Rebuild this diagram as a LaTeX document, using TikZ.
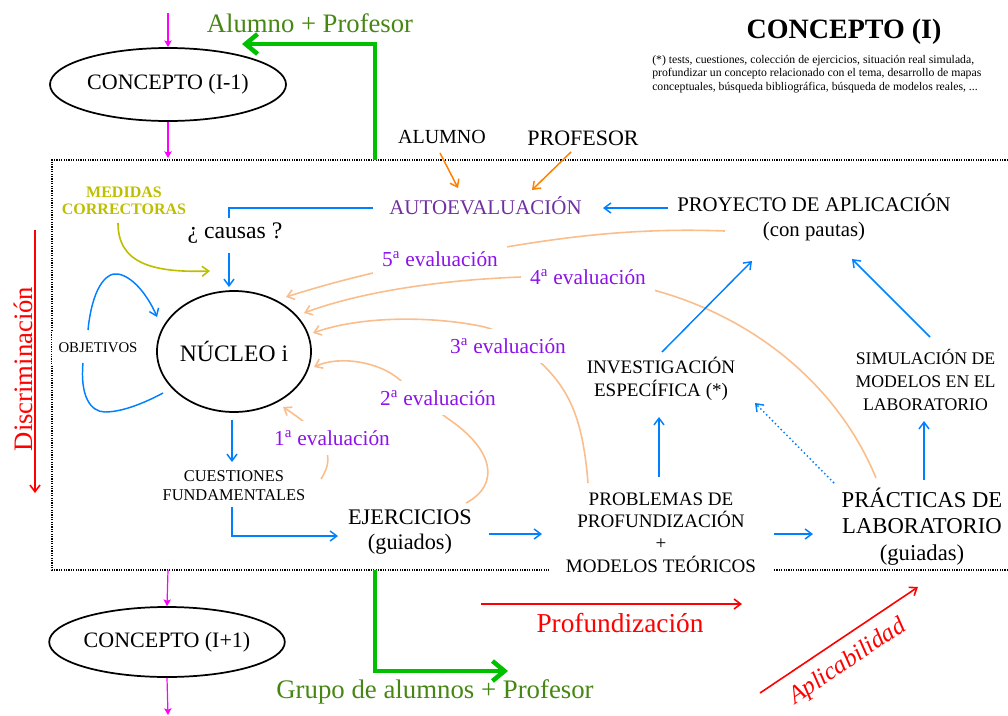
\documentclass[tikz,border=0pt]{standalone}
\usepackage{fontspec}
\setmainfont{Liberation Serif}
\usetikzlibrary{arrows.meta,shapes.geometric}
\definecolor{blu}{RGB}{0,128,255}
\definecolor{mag}{RGB}{255,0,255}
\definecolor{grn}{RGB}{0,192,0}
\definecolor{grntxt}{RGB}{70,135,20}
\definecolor{peach}{RGB}{250,190,140}
\definecolor{org}{RGB}{255,128,0}
\definecolor{purp}{RGB}{112,48,160}
\definecolor{viol}{RGB}{140,20,235}
\definecolor{olv}{RGB}{190,190,0}
\tikzset{
  fs/.style 2 args={font=\fontsize{#1}{#2}\selectfont},
  fsb/.style 2 args={font=\fontsize{#1}{#2}\selectfont\bfseries},
  tx/.style={inner sep=0pt, align=center},
  bl/.style={draw=blu, line width=1.1pt, -{Straight Barb[length=5pt,width=7.5pt]}},
  pe/.style={draw=peach, line width=1.2pt, -{Straight Barb[length=5pt,width=7.5pt]}},
  og/.style={draw=org, line width=1.1pt, -{Straight Barb[length=5pt,width=7.5pt]}},
  mg/.style={draw=mag, line width=0.9pt, -{Stealth[length=5pt,width=5.5pt,inset=1pt]}},
  gr/.style={draw=grn, line width=3.4pt, -{Straight Barb[length=9pt,width=15pt]}},
  rd/.style={draw=red, line width=1.2pt, -{Straight Barb[length=5pt,width=7.5pt]}},
  lab/.style={fill=white, inner xsep=7pt, inner ysep=7pt, text=viol, fs={16}{19}},
  ell/.style={ellipse, draw, line width=1.3pt, inner sep=0pt}
}
\begin{document}
\begin{tikzpicture}[x=0.75pt,y=-0.75pt]
\useasboundingbox (0,0) rectangle (1008,715);

% dotted frame
\draw[line width=0.9pt, dash pattern=on 0.9pt off 0.9pt] (1008,160) -- (52,160) -- (52,570) -- (1008,570);

% evaluation curves
\draw[pe] (725,231) .. controls (620,227) and (540,240) .. (440,259) .. controls (380,270) and (330,283) .. (286,297);
\draw[pe] (876,478) .. controls (840,390) and (760,320) .. (657,291) .. controls (610,278) and (560,274) .. (521,277) .. controls (440,280) and (360,292) .. (304,313);
\draw[pe] (588,483) .. controls (583,420) and (570,390) .. (540,362) .. controls (515,340) and (500,330) .. (480,326) .. controls (430,316) and (360,316) .. (313,333);
\draw[pe] (466,503) .. controls (500,485) and (495,450) .. (447,418) .. controls (430,405) and (410,390) .. (400,380) .. controls (380,362) and (340,355) .. (314,367);
\draw[pe] (321,479) .. controls (330,465) and (330,455) .. (322,440) .. controls (315,430) and (300,418) .. (283,407);

\node[lab] (e5) at (440,259) {5\textsuperscript{a} evaluación};
\node[lab] (e4) at (588,277) {4\textsuperscript{a} evaluación};
\node[lab] (e3) at (508,346) {3\textsuperscript{a} evaluación};
\node[lab] (e2) at (438,398) {2\textsuperscript{a} evaluación};
\node[lab] (e1) at (332,438) {1\textsuperscript{a} evaluación};

% nodes
\node[ell, fs={16.5}{20}, minimum width=177pt, minimum height=54.75pt] (cprev) at (168,84.5) {CONCEPTO (I-1)};
\node[ell, fs={16.5}{20}, minimum width=175.5pt, minimum height=52.5pt] (cnext) at (167,642) {CONCEPTO (I+1)};
\node[ell, fs={17.7}{21}, minimum width=115.5pt, minimum height=90.75pt] (nuc) at (234,351.5) {NÚCLEO i};

\node[tx, fs={20}{24}, text=grntxt] (ap) at (310,23) {Alumno + Profesor};
\node[tx, fs={20.1}{24}, text=grntxt] (gp) at (435,692) {Grupo de alumnos + Profesor};
\node[tx, fsb={21}{25}] (title) at (844,32) {CONCEPTO (I)};
\node[tx, fs={8.8}{10.1}, align=left, anchor=west] (note) at (652,74) {(*) tests, cuestiones, colección de ejercicios, situación real simulada,\\profundizar un concepto relacionado con el tema, desarrollo de mapas\\conceptuales, búsqueda bibliográfica, búsqueda de modelos reales, ...};
\node[tx, fs={15}{18}] (alu) at (442,137) {ALUMNO};
\node[tx, fs={16.5}{20}] (pro) at (583,138) {PROFESOR};
\node[tx, fs={15.7}{19}, text=purp] (auto) at (485.5,206) {AUTOEVALUACIÓN};
\node[tx, fs={15.6}{18.75}] (proy) at (814,217.5) {PROYECTO DE APLICACIÓN\\(con pautas)};
\node[tx, fsb={12}{12.75}, text=olv] (med) at (124,200.5) {MEDIDAS\\CORRECTORAS};
\node[tx, fs={11.1}{13}, fill=white, inner xsep=5pt, inner ysep=9pt] (obj) at (98,348) {OBJETIVOS};
\node[tx, fs={17.8}{21}] (caus) at (235,233) {¿ causas ?};
\node[tx, fs={12.3}{14.3}] (cues) at (234,485.5) {CUESTIONES\\FUNDAMENTALES};
\node[tx, fs={16.7}{18.75}] (ejer) at (410,532.5) {EJERCICIOS\\(guiados)};
\node[tx, fs={14.3}{16.7}, fill=white, inner xsep=13pt, inner ysep=2pt] (prob) at (661,532.5) {PROBLEMAS DE\\PROFUNDIZACIÓN\\+\\MODELOS TEÓRICOS};
\node[tx, fs={17}{19.9}] (prac) at (922,526.5) {PRÁCTICAS DE\\LABORATORIO\\(guiadas)};
\node[tx, fs={14.3}{17.25}] (inv) at (661,378.5) {INVESTIGACIÓN\\ESPECÍFICA (*)};
\node[tx, fs={13.3}{17.25}] (sim) at (925.5,380) {SIMULACIÓN DE\\MODELOS EN EL\\LABORATORIO};
\node[tx, fs={20}{24}, text=red, rotate=90] (disc) at (23,369) {Discriminación};
\node[tx, fs={20.5}{24}, text=red] (prof) at (620,623) {Profundización};
\node[tx, fs={18.6}{22}, text=red, rotate=34] (apl) at (848,662) {\itshape Aplicabilidad};

% coordinates for connector ends
\coordinate (m1) at (168,13);
\coordinate (m2) at (168,158);
\coordinate (m3) at (168,570);
\coordinate (m4) at (168,715);
\coordinate (gtop) at (375,160);
\coordinate (gtip) at (242,44);
\coordinate (gbot) at (375,570);
\coordinate (gtip2) at (508,671);
\coordinate (aluS) at (440,153);
\coordinate (proS) at (571,152);
\coordinate (autoA) at (458,188);
\coordinate (autoB) at (532,190);
\coordinate (proyL) at (668,208);
\coordinate (autoR) at (603,208);
\coordinate (autoL) at (373,208);
\coordinate (causT) at (229,218);
\coordinate (causB) at (229,253);
\coordinate (nucT) at (229,287);
\coordinate (nucB) at (232,420);
\coordinate (cuesT) at (232,462);
\coordinate (cuesB) at (232,507);
\coordinate (ejL) at (338,536);
\coordinate (ejR) at (489,534);
\coordinate (probL) at (542,534);
\coordinate (probR) at (774,534);
\coordinate (pracL) at (813,534);
\coordinate (probT) at (659,477);
\coordinate (invB) at (659,417);
\coordinate (invT) at (662,352);
\coordinate (proyB1) at (752,261);
\coordinate (pracT) at (924,480);
\coordinate (simB) at (924,421);
\coordinate (simT) at (930,337);
\coordinate (proyB2) at (852,259);
\coordinate (pracTL) at (834,483);
\coordinate (invR) at (755,403);
\coordinate (medS) at (118,223);
\coordinate (medE) at (210,271);
\coordinate (objT) at (88,330);
\coordinate (objTE) at (157,317);
\coordinate (objB) at (83,363);
\coordinate (objBE) at (163,393);
\coordinate (dS) at (35,230);
\coordinate (dE) at (35,493);
\coordinate (pS) at (481,604);
\coordinate (pE) at (742,604);
\coordinate (aS) at (760,693);
\coordinate (aE) at (918,587);

% magenta
\draw[mg] (m1) -- (cprev.north);
\draw[mg] (cprev.south) -- (m2);
\draw[mg] (m3) -- (cnext.north);
\draw[mg] (cnext.south) -- (m4);

% green
\draw[gr] (gtop) |- (gtip);
\draw[gr] (gbot) |- (gtip2);

% orange
\draw[og] (aluS) -- (autoA);
\draw[og] (proS) -- (autoB);

% olive
\draw[draw=olv, line width=1.2pt, -{Straight Barb[length=5pt,width=7.5pt]}] (medS) .. controls (118,262) and (150,273) .. (medE);

% blue
\draw[bl] (proyL) -- (autoR);
\draw[draw=blu, line width=1.1pt] (autoL) -| (causT);
\draw[bl] (causB) -- (nucT);
\draw[bl] (objT) .. controls (92,290) and (105,272) .. (118,274) .. controls (135,277) and (150,300) .. (objTE);
\draw[draw=blu, line width=1.1pt] (objB) .. controls (80,395) and (90,412) .. (105,412) .. controls (125,412) and (150,400) .. (objBE);
\draw[bl] (nucB) -- (cuesT);
\draw[bl] (cuesB) |- (ejL);
\draw[bl] (ejR) -- (probL);
\draw[bl] (probR) -- (pracL);
\draw[bl] (probT) -- (invB);
\draw[bl] (invT) -- (proyB1);
\draw[bl] (pracT) -- (simB);
\draw[bl] (simT) -- (proyB2);
\draw[bl, dotted] (pracTL) -- (invR);

% red
\draw[rd] (dS) -- (dE);
\draw[rd] (pS) -- (pE);
\draw[rd] (aS) -- (aE);
\end{tikzpicture}
\end{document}
